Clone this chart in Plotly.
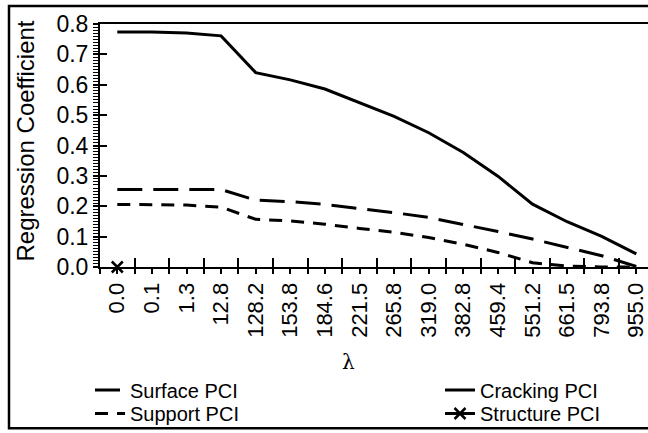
import plotly.graph_objects as go

categories = ["0.0", "0.1", "1.3", "12.8", "128.2", "153.8", "184.6", "221.5",
              "265.8", "319.0", "382.8", "459.4", "551.2", "661.5", "793.8", "955.0"]
surface_pci = [0.255, 0.255, 0.255, 0.255, 0.220, 0.215, 0.206, 0.193,
               0.179, 0.163, 0.141, 0.117, 0.092, 0.065, 0.037, 0.002]
cracking_pci = [0.774, 0.774, 0.770, 0.761, 0.640, 0.616, 0.586, 0.542,
                0.496, 0.442, 0.377, 0.299, 0.207, 0.149, 0.101, 0.043]
support_pci = [0.206, 0.206, 0.204, 0.197, 0.157, 0.152, 0.141, 0.127,
               0.114, 0.097, 0.075, 0.048, 0.014, 0.003, 0.0, 0.0]
structure_pci = [0.0] + [None] * 15

idx = list(range(len(categories)))
bounds = [i - 0.5 for i in range(len(categories) + 1)]

FONT = "Liberation Sans, Arial, sans-serif"
W, H = 648, 433
L, R, T, B = 100, 0, 24, 165
PW = W - L - R
PH = H - T - B

def px(xp):
    return (xp - L) / PW

def py(yp):
    return (H - B - yp) / PH

fig = go.Figure()
fig.add_trace(go.Scatter(x=idx, y=surface_pci, mode="lines", name="Surface PCI",
                         line=dict(color="black", width=3, dash="25px,11px"),
                         legend="legend"))
fig.add_trace(go.Scatter(x=idx, y=cracking_pci, mode="lines", name="Cracking PCI",
                         line=dict(color="black", width=3),
                         legend="legend2"))
fig.add_trace(go.Scatter(x=idx, y=support_pci, mode="lines", name="Support PCI",
                         line=dict(color="black", width=3, dash="13px,9px"),
                         legend="legend3"))
fig.add_trace(go.Scatter(x=idx, y=structure_pci, mode="lines+markers", name="Structure PCI",
                         line=dict(color="black", width=3),
                         marker=dict(symbol="x-thin", size=11, color="black",
                                     line=dict(color="black", width=2.5)),
                         cliponaxis=False, legend="legend4"))
# helper trace to activate overlay axes (for crossing ticks)
fig.add_trace(go.Scatter(x=[], y=[], xaxis="x2", yaxis="y2", showlegend=False,
                         hoverinfo="skip"))

xr = [-0.5, -0.5 + PW / 34.6]
xtickfont = dict(family=FONT, size=22, color="black")
ytickfont = dict(family=FONT, size=23, color="black")

fig.update_layout(
    width=W, height=H,
    margin=dict(l=L, r=R, t=T, b=B, pad=0),
    paper_bgcolor="white", plot_bgcolor="white",
    font=dict(family=FONT, color="black"),
    xaxis=dict(range=xr, tickmode="array", tickvals=idx, ticktext=categories,
               tickangle=-90, ticks="outside", ticklen=5, tickwidth=1.5,
               tickcolor="black", showline=True, linecolor="black", linewidth=2,
               mirror=True, showgrid=False, zeroline=False, tickfont=xtickfont,
               ticklabeloverflow="allow",
               minor=dict(tickmode="array", tickvals=bounds, ticks="outside",
                          ticklen=5, tickwidth=1.5, tickcolor="black", showgrid=False)),
    yaxis=dict(range=[0, 0.8], dtick=0.1, tickformat=".1f", ticks="outside",
               ticklen=5, tickwidth=1.5, tickcolor="black", showline=True,
               linecolor="black", linewidth=2, showgrid=False, zeroline=False,
               tickfont=ytickfont, ticklabeloverflow="allow",
               minor=dict(dtick=0.01, ticks="outside", ticklen=5, tickwidth=1,
                          tickcolor="black", showgrid=False)),
    xaxis2=dict(range=xr, overlaying="x", anchor="y2", tickmode="array",
                tickvals=bounds, ticks="inside", ticklen=9, tickwidth=1.5,
                tickcolor="black", showticklabels=False, showline=False,
                showgrid=False, zeroline=False),
    yaxis2=dict(range=[0, 0.8], overlaying="y", anchor="x2", dtick=0.1,
                ticks="inside", ticklen=7, tickwidth=1.5, tickcolor="black",
                showticklabels=False, showline=False, showgrid=False,
                zeroline=False),
    showlegend=True,
)

legfont = dict(family=FONT, size=20, color="black")
leg_common = dict(orientation="v", xanchor="left", yanchor="middle",
                  bgcolor="rgba(0,0,0,0)", borderwidth=0, font=legfont,
                  itemwidth=30)
fig.update_layout(
    legend=dict(x=px(90), y=py(390), **leg_common),
    legend2=dict(x=px(440), y=py(390), **leg_common),
    legend3=dict(x=px(90), y=py(415), **leg_common),
    legend4=dict(x=px(440), y=py(415), **leg_common),
)

fig.add_annotation(text="Regression Coefficient", xref="paper", yref="paper",
                   x=px(26), y=py(142), textangle=-90, showarrow=False,
                   font=dict(family=FONT, size=24, color="black"),
                   xanchor="center", yanchor="middle")
fig.add_annotation(text="λ", xref="paper", yref="paper",
                   x=px(348), y=py(363), showarrow=False,
                   font=dict(family="DejaVu Serif, serif", size=20, color="black"),
                   xanchor="center", yanchor="middle")

fig.add_shape(type="rect", xref="paper", yref="paper",
              x0=px(9), x1=px(700), y0=py(430), y1=py(6),
              line=dict(color="black", width=2.5), fillcolor="rgba(0,0,0,0)",
              layer="above")

fig.write_html("out.html")
